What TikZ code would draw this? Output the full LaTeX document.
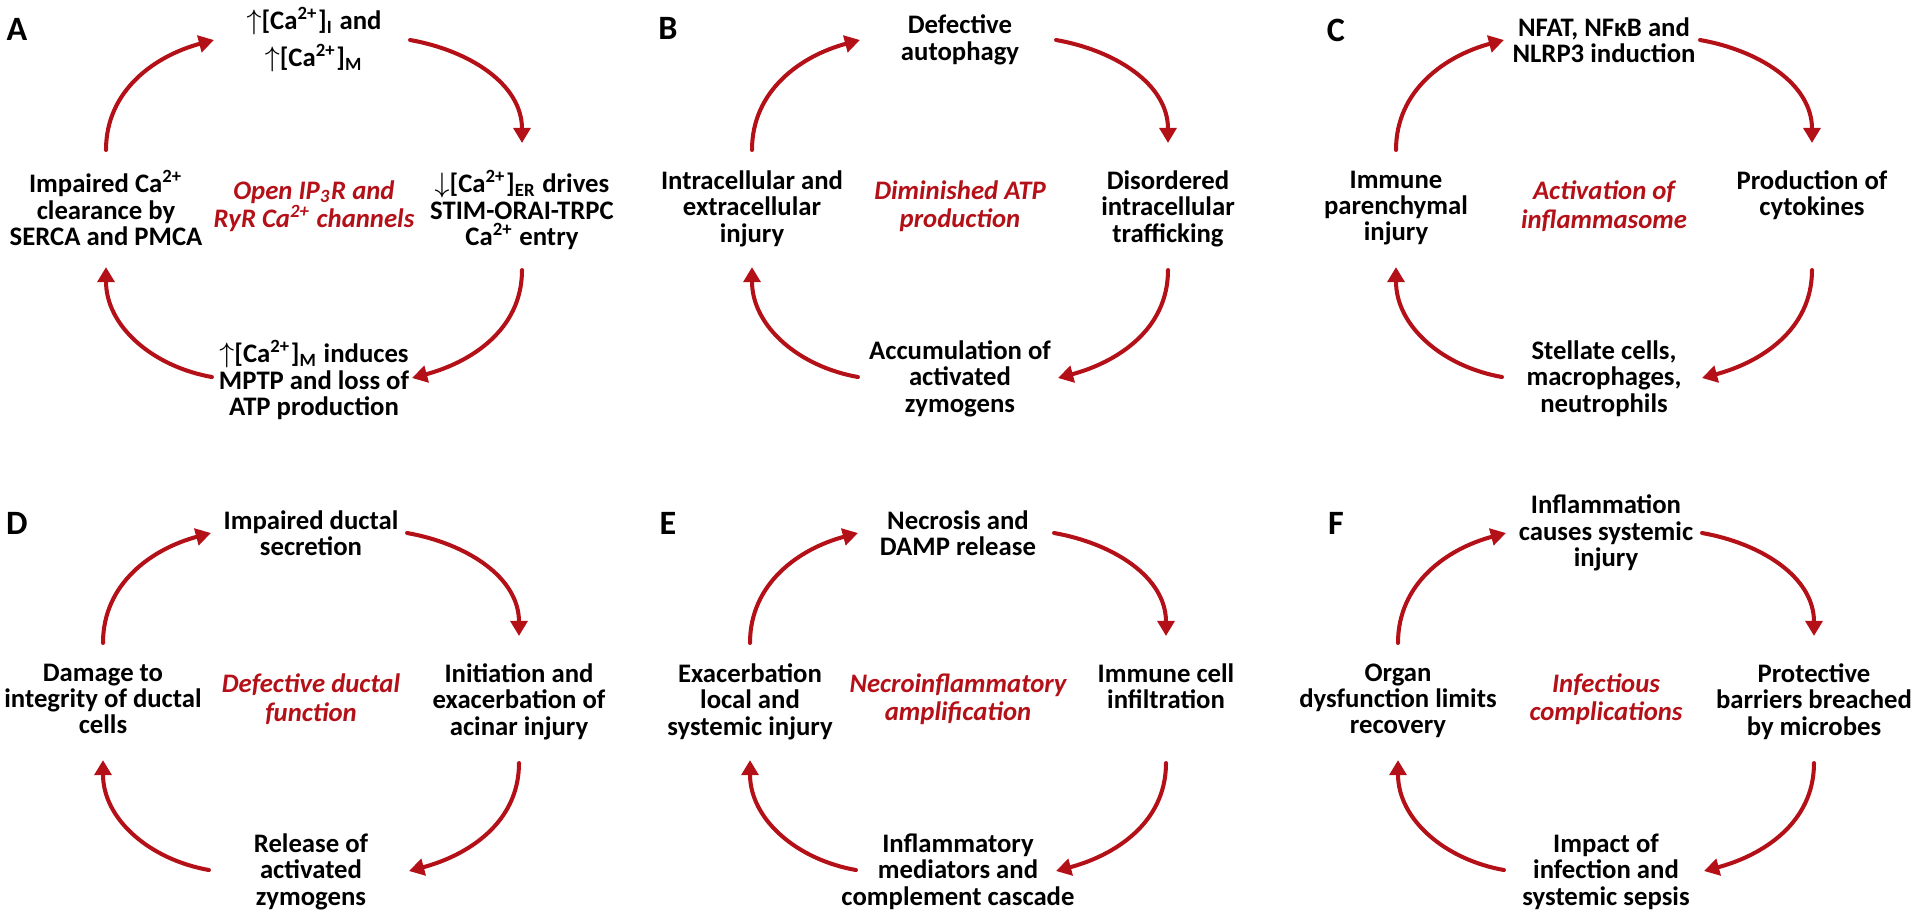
\documentclass[tikz,border=0pt]{standalone}
\usepackage{fontspec}
\setmainfont{Carlito}
\usetikzlibrary{arrows.meta}
\definecolor{cycred}{RGB}{180,16,24}
\newcommand\tightlines{\lineskiplimit=-5pt\relax}
\tikzset{
  stage/.style={font=\bfseries\fontsize{7.6}{7.5}\selectfont\tightlines,align=center,inner sep=0pt},
  core/.style={stage,font=\bfseries\itshape\fontsize{7.6}{8.1}\selectfont,text=cycred},
  cyc/.style={cycred,line width=1.15pt,-{Triangle[length=4.3pt,width=4.8pt]}},
  letter/.style={font=\bfseries\fontsize{9.7}{10}\selectfont,inner sep=0pt}
}
% one panel: name, centre x, top y (px), top, right, bottom, left, centre text
\newcommand\cyclepanel[8]{%
  \node[stage] (#1t) at ({#2},{-#3-40}) {#4};
  \node[stage,anchor=north] (#1r) at ({#2+208},{-#3-170}) {#5};
  \node[stage,anchor=north] (#1b) at ({#2},{-#3-340}) {#6};
  \node[stage,anchor=north] (#1l) at ({#2-208},{-#3-170}) {#7};
  \node[core] (#1c) at ({#2},{-#3-206}) {#8};
  \draw[cyc] ([yshift=0.2cm]#1l.north) to[out=90,in=195] ([xshift=-1cm]#1t.center);
  \draw[cyc] ([xshift=0.96cm]#1t.center) to[out=-10,in=90] ([yshift=0.27cm]#1r.north);
  \draw[cyc] ([yshift=-1cm]#1r.north) to[out=-90,in=15] ([xshift=0.98cm,yshift=-0.38cm]#1b.north);
  \draw[cyc] ([xshift=-1.02cm,yshift=-0.37cm]#1b.north) to[out=170,in=-90] ([yshift=-0.97cm]#1l.north);
}
\newcommand\ca{Ca\textsuperscript{2+}}
\begin{document}
\begin{tikzpicture}[x=0.01cm,y=0.01cm,line cap=round]
\useasboundingbox (0,0) rectangle (1920,-921);
\foreach \p/\x/\y in {A/17/29,B/668/28,C/1336/30,D/17/523,E/668/523,F/1336/523}
  \node[letter] (\p) at (\x,-\y) {\p};
\cyclepanel{A}{314}{0}
  {$\uparrow$[\ca]\textsubscript{I} and\\[3pt]$\uparrow$[\ca]\textsubscript{M}}
  {$\downarrow$[\ca]\textsubscript{ER} drives\\STIM-ORAI-TRPC\\\ca{} entry}
  {$\uparrow$[\ca]\textsubscript{M} induces\\MPTP and loss of\\ATP production}
  {Impaired \ca\\clearance by\\SERCA and PMCA}
  {Open IP\textsubscript{3}R and\\RyR \ca{} channels}
\cyclepanel{B}{960}{0}
  {Defective\\autophagy}
  {Disordered\\intracellular\\trafficking}
  {Accumulation of\\activated\\zymogens}
  {Intracellular and\\extracellular\\injury}
  {Diminished ATP\\production}
\cyclepanel{C}{1604}{0}
  {NFAT, NFκB and\\NLRP3 induction}
  {Production of\\cytokines}
  {Stellate cells,\\macrophages,\\neutrophils}
  {Immune\\parenchymal\\injury}
  {Activation of\\inflammasome}
\cyclepanel{D}{311}{493}
  {Impaired ductal\\secretion}
  {Initiation and\\exacerbation of\\acinar injury}
  {Release of\\activated\\zymogens}
  {Damage to\\integrity of ductal\\cells}
  {Defective ductal\\function}
\cyclepanel{E}{958}{493}
  {Necrosis and\\DAMP release}
  {Immune cell\\infiltration}
  {Inflammatory\\mediators and\\complement cascade}
  {Exacerbation\\local and\\systemic injury}
  {Necroinflammatory\\amplification}
\cyclepanel{F}{1606}{493}
  {Inflammation\\causes systemic\\injury}
  {Protective\\barriers breached\\by microbes}
  {Impact of\\infection and\\systemic sepsis}
  {Organ\\dysfunction limits\\recovery}
  {Infectious\\complications}
\end{tikzpicture}
\end{document}
